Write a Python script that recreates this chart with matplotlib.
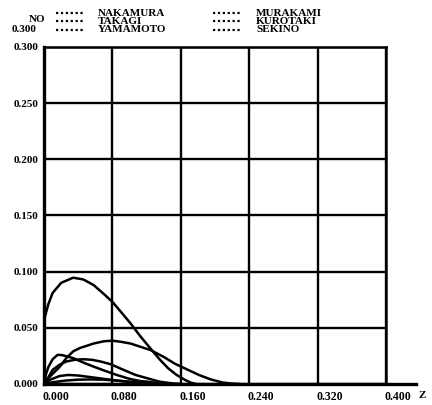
import numpy as np
import matplotlib
matplotlib.use("Agg")
import matplotlib.pyplot as plt
from matplotlib.lines import Line2D

plt.rcParams['font.family'] = ['Liberation Serif', 'DejaVu Serif']
plt.rcParams['font.weight'] = 'bold'

# series (Z vs value)
names = ["NAKAMURA", "TAKAGI", "YAMAMOTO", "MURAKAMI", "KUROTAKI", "SEKINO"]

z_a = [0, 0.005, 0.010, 0.020, 0.034, 0.046, 0.058, 0.070, 0.080, 0.090, 0.101,
       0.113, 0.125, 0.135, 0.145, 0.155, 0.165, 0.172, 0.178]
v_a = [0.057, 0.071, 0.081, 0.090, 0.0946, 0.093, 0.088, 0.080, 0.073, 0.064, 0.054,
       0.042, 0.031, 0.022, 0.014, 0.008, 0.0035, 0.001, 0.0]

z_b = [0, 0.005, 0.010, 0.018, 0.026, 0.034, 0.042, 0.058, 0.070, 0.080, 0.090, 0.101,
       0.113, 0.125, 0.140, 0.153, 0.167, 0.181, 0.195, 0.209, 0.220, 0.228]
v_b = [0, 0.005, 0.009, 0.015, 0.023, 0.029, 0.032, 0.036, 0.038, 0.0385, 0.0375, 0.036,
       0.033, 0.030, 0.024, 0.018, 0.013, 0.008, 0.004, 0.0012, 0.0003, 0]

z_c = [0, 0.002, 0.005, 0.010, 0.016, 0.022, 0.034, 0.046, 0.058, 0.070, 0.085,
       0.100, 0.113, 0.121, 0.132, 0.142]
v_c = [0, 0.008, 0.015, 0.022, 0.026, 0.0255, 0.023, 0.019, 0.0154, 0.012, 0.008,
       0.0045, 0.0025, 0.002, 0.0008, 0]

z_d = [0, 0.005, 0.010, 0.018, 0.026, 0.036, 0.046, 0.056, 0.066, 0.078, 0.093,
       0.107, 0.121, 0.135, 0.150, 0.160]
v_d = [0, 0.006, 0.0125, 0.017, 0.020, 0.0215, 0.022, 0.0215, 0.020, 0.0175, 0.0125,
       0.008, 0.005, 0.002, 0.0005, 0]

z_e = [0, 0.008, 0.018, 0.028, 0.040, 0.055, 0.070, 0.085, 0.100, 0.115, 0.130, 0.140]
v_e = [0, 0.004, 0.007, 0.008, 0.0075, 0.006, 0.0045, 0.003, 0.0018, 0.0008, 0.0002, 0]

z_f = [0, 0.010, 0.025, 0.040, 0.055, 0.070, 0.085, 0.100, 0.115, 0.130, 0.145]
v_f = [0, 0.0015, 0.003, 0.0038, 0.004, 0.0038, 0.003, 0.002, 0.0012, 0.0005, 0]

series = [(z_a, v_a), (z_b, v_b), (z_c, v_c), (z_d, v_d), (z_e, v_e), (z_f, v_f)]

xticks = [0.0, 0.08, 0.16, 0.24, 0.32, 0.40]
xlabels = ["0.000", "0.080", "0.160", "0.240", "0.320", "0.400"]
yticks = [0.0, 0.05, 0.10, 0.15, 0.20, 0.25, 0.30]
ylabels = ["0.000", "0.050", "0.100", "0.150", "0.200", "0.250", "0.300"]

fig = plt.figure(figsize=(4.32, 4.05), dpi=100)
ax = fig.add_axes([0.102, 0.052, 0.792, 0.832])

for z, v in series:
    ax.plot(z, v, color='black', lw=1.8, solid_capstyle='round')

ax.set_xlim(0, 0.40)
ax.set_ylim(0, 0.30)
ax.set_xticks(xticks)
ax.set_yticks(yticks)
ax.set_xticklabels([])
ax.set_yticklabels(ylabels, fontsize=8, fontweight='bold')
ax.tick_params(length=0, pad=4)
ax.grid(True, color='black', lw=1.7)
for s in ax.spines.values():
    s.set_linewidth(1.8)
ax.spines['left'].set_linewidth(2.4)
ax.spines['bottom'].set_visible(False)

# extended Z axis
ax.plot([0, 0.435], [0, 0], color='black', lw=2.4, clip_on=False)
ax.text(0.438, -0.006, "Z", ha='left', va='top', fontsize=8, fontweight='bold')
for t, lab in zip(xticks, xlabels):
    ax.text(t - 0.002, -0.006, lab, ha='left', va='top', fontsize=8.5, fontweight='bold')

# legend header
fig.text(45 / 432, 1 - 20 / 405, "NO", ha='right', va='center', fontsize=8, fontweight='bold')
fig.text(37 / 432, 1 - 30 / 405, "0.300", ha='right', va='center', fontsize=8, fontweight='bold')

rows = [13, 21, 30]
cols = [(56, 98), (213, 256)]
for i, name in enumerate(names):
    sx, tx = cols[i // 3]
    yy = 1 - rows[i % 3] / 405
    fig.add_artist(Line2D([sx / 432, (sx + 28) / 432], [yy, yy], color='black',
                          lw=1.6, linestyle=(0, (1, 1.2)), transform=fig.transFigure))
    fig.text(tx / 432, yy, name, ha='left', va='center', fontsize=8, fontweight='bold')

fig.savefig("out.png", dpi=100)
